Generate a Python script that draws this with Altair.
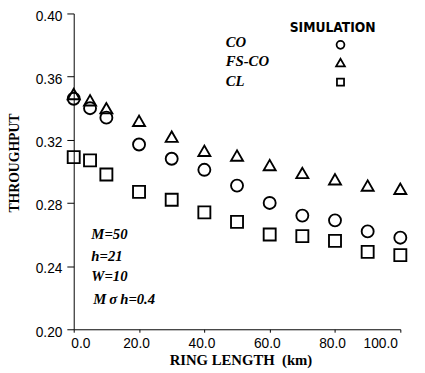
import altair as alt
import pandas as pd

ring_km = [0, 5, 10, 20, 30, 40, 50, 60, 70, 80, 90, 100]
co = [0.346, 0.340, 0.334, 0.317, 0.308, 0.301, 0.291, 0.280, 0.272, 0.269, 0.262, 0.258]
fs_co = [0.349, 0.345, 0.340, 0.332, 0.322, 0.313, 0.310, 0.304, 0.299, 0.295, 0.291, 0.289]
cl = [0.309, 0.307, 0.298, 0.287, 0.282, 0.274, 0.268, 0.260, 0.259, 0.256, 0.249, 0.247]

series_names = ["CO", "FS-CO", "CL"]
series_shapes = ["circle", "triangle-up", "square"]
x_ticks = [0, 20, 40, 60, 80, 100]
y_ticks = [0.20, 0.24, 0.28, 0.32, 0.36, 0.40]
params = ["M=50", "h=21", "W=10", "M\u2009σ\u2009h=0.4"]

rows = []
for name, vals in zip(series_names, [co, fs_co, cl]):
    for xv, yv in zip(ring_km, vals):
        rows.append({"ring": xv, "thr": yv, "series": name})
df = pd.DataFrame(rows)

SERIF = "Liberation Serif"
SANS = "Liberation Sans"

points = alt.Chart(df).mark_point(filled=False, color="black", strokeWidth=1.9, size=150, opacity=1).encode(
    x=alt.X("ring:Q", scale=alt.Scale(domain=[0, 100], nice=False),
            axis=alt.Axis(values=x_ticks, format=".1f", title="RING LENGTH\u00a0 (km)",
                          titleX=170, titleY=36, titleBaseline="alphabetic")),
    y=alt.Y("thr:Q", scale=alt.Scale(domain=[0.20, 0.40], nice=False, zero=False),
            axis=alt.Axis(values=y_ticks, format=".2f", title="THROUGHPUT",
                          titleX=-56, titleY=152, titleBaseline="alphabetic", titleAlign="center",
                          tickSize=7, labelOffset=3, labelPadding=5)),
    shape=alt.Shape("series:N", scale=alt.Scale(domain=series_names, range=series_shapes), legend=None),
)

one = alt.Data(values=[{}])
layers = [points]

layers.append(alt.Chart(one).mark_text(text="SIMULATION", font="Liberation Sans Narrow, DejaVu Sans Condensed, sans-serif",
                                       fontWeight="bold", fontSize=14, align="center", baseline="alphabetic",
                                       color="black").encode(x=alt.value(264), y=alt.value(19)))
sym_sizes = [64, 80, 52]
for i, (name, shp) in enumerate(zip(series_names, series_shapes)):
    layers.append(alt.Chart(one).mark_text(text=name, font=SERIF, fontWeight="bold", fontStyle="italic",
                                           fontSize=15, align="left", baseline="alphabetic", color="black")
                  .encode(x=alt.value(155), y=alt.value(34 + 20 * i)))
    layers.append(alt.Chart(one).mark_point(shape=shp, filled=False, color="black", strokeWidth=1.8,
                                            size=sym_sizes[i], opacity=1)
                  .encode(x=alt.value(272), y=alt.value([32, 50, 70][i])))

for i, t in enumerate(params):
    layers.append(alt.Chart(one).mark_text(text=t, font=SERIF, fontWeight="bold", fontStyle="italic",
                                           fontSize=15, align="left", baseline="alphabetic", color="black")
                  .encode(x=alt.value(18 if i < 3 else 20), y=alt.value([230, 252, 273, 296][i])))

chart = alt.layer(*layers).properties(
    width=333, height=322,
    autosize=alt.AutoSizeParams(type="none"),
    padding={"left": 67, "top": 2, "right": 17, "bottom": 41},
    background="white",
).configure_view(stroke=None).configure_axis(
    grid=False, domainColor="black", tickColor="black", domainWidth=1, tickWidth=1,
    labelFont=SANS, labelFontSize=14, labelColor="black",
    titleFont=SERIF, titleFontWeight="bold", titleFontSize=14, titleColor="black",
).configure_axisX(tickSize=3, labelPadding=5, labelOffset=-3, titleFontSize=15)

chart.save("out.html", embed_options={"renderer": "svg", "actions": False})
